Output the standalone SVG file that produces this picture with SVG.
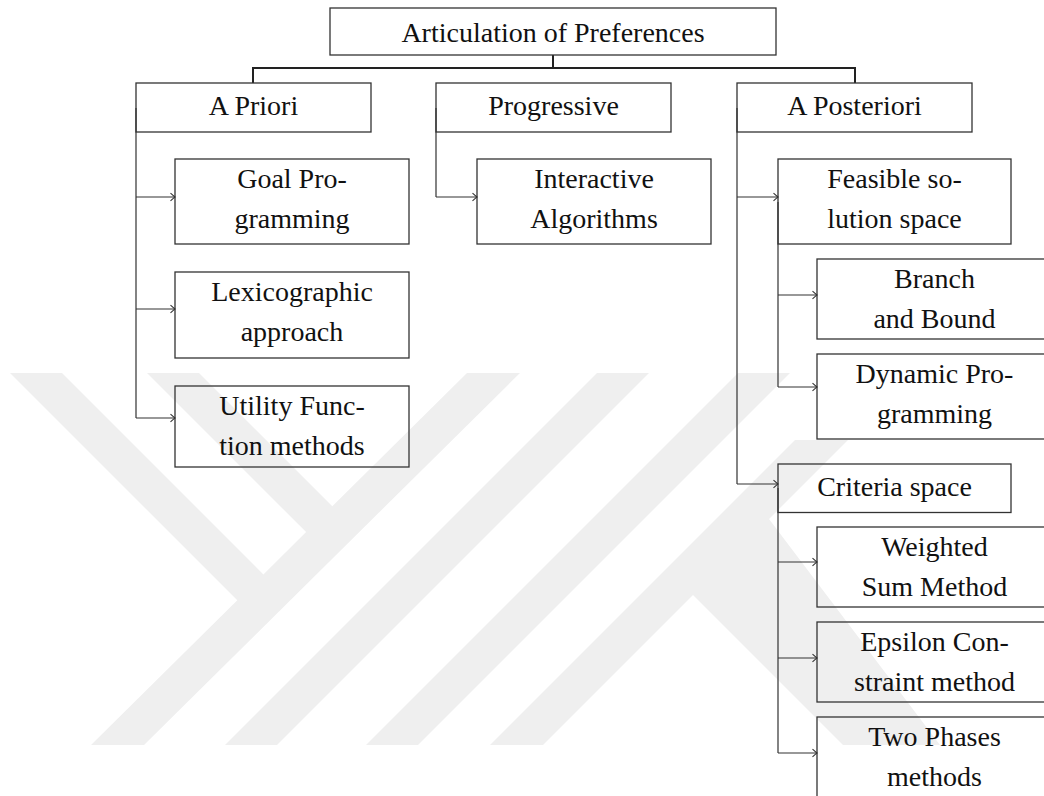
<svg xmlns="http://www.w3.org/2000/svg" width="1044" height="796" viewBox="0 0 1044 796">
<style>
.wm{fill:#efefef;stroke:none}
.box{fill:none;stroke:#333;stroke-width:1.3}
.t{font-family:"Liberation Serif","Times New Roman",serif;font-size:28px;fill:#111;text-anchor:middle}
.thick{fill:none;stroke:#222;stroke-width:2}
.thin{fill:none;stroke:#333;stroke-width:1.2}
.arr{fill:none;stroke:#333;stroke-width:1.2;marker-end:url(#tip)}
</style>
<defs>
<marker id="tip" markerUnits="userSpaceOnUse" viewBox="-6 -5 7 10" refX="0" refY="0" markerWidth="7" markerHeight="10" orient="auto" overflow="visible">
<path d="M-4.5,-3.8 Q-1.2,-0.8 0,0 Q-1.2,0.8 -4.5,3.8" fill="none" stroke="#333" stroke-width="1.1"/>
</marker>
</defs>
<rect width="1044" height="796" fill="#fff"/>
<g id="watermark">
<polygon class="wm" points="10,373 62,373 263.4,574.4 306.1,532.1 147,373 199,373 332.3,506.3 467,373 520,373 144,745 91,745 237.3,600.3"/>
<polygon class="wm" points="597,373 649,373 277,745 225,745"/>
<polygon class="wm" points="738,373 790,373 418,745 366,745"/>
<polygon class="wm" points="795,440 848,440 769,519 940,745 843,745 693,595 543,745 490,745"/>
</g>
<g id="connectors">
<path class="thick" d="M553,55 V68 M253,83 V68 H855 V83"/>
<path class="thin" d="M136,108 V418 M436,108 V197 M737,108 V484 M778,202 V387 M778,488 V753"/>
<path class="arr" d="M136,197 H175"/>
<path class="arr" d="M136,309 H175"/>
<path class="arr" d="M136,418 H175"/>
<path class="arr" d="M436,197 H477"/>
<path class="arr" d="M737,197 H778"/>
<path class="arr" d="M737,484 H778"/>
<path class="arr" d="M778,295 H817"/>
<path class="arr" d="M778,387 H817"/>
<path class="arr" d="M778,562 H817"/>
<path class="arr" d="M778,658 H817"/>
<path class="arr" d="M778,753 H817"/>
</g>
<g id="root"><rect class="box" x="330" y="8" width="446" height="47"/><text class="t" x="553" y="41.5">Articulation of Preferences</text></g>
<g id="apriori"><rect class="box" x="136" y="83" width="235" height="49"/><text class="t" x="253.5" y="114.5">A Priori</text></g>
<g id="progressive"><rect class="box" x="436" y="83" width="235" height="49"/><text class="t" x="553.5" y="114.5">Progressive</text></g>
<g id="aposteriori"><rect class="box" x="737" y="83" width="235" height="49"/><text class="t" x="854.5" y="114.5">A Posteriori</text></g>
<g id="goal"><rect class="box" x="175" y="159" width="234" height="85"/><text class="t" x="292" y="188">Goal Pro-</text><text class="t" x="292" y="228">gramming</text></g>
<g id="lexico"><rect class="box" x="175" y="272" width="234" height="86"/><text class="t" x="292" y="301">Lexicographic</text><text class="t" x="292" y="341">approach</text></g>
<g id="utility"><rect class="box" x="175" y="386" width="234" height="81"/><text class="t" x="292" y="415">Utility Func-</text><text class="t" x="292" y="455">tion methods</text></g>
<g id="interactive"><rect class="box" x="477" y="159" width="234" height="85"/><text class="t" x="594" y="188">Interactive</text><text class="t" x="594" y="228">Algorithms</text></g>
<g id="feasible"><rect class="box" x="778" y="159" width="233" height="85"/><text class="t" x="894.5" y="188">Feasible so-</text><text class="t" x="894.5" y="228">lution space</text></g>
<g id="branch"><rect class="box" x="817" y="259" width="235" height="80"/><text class="t" x="934.5" y="288">Branch</text><text class="t" x="934.5" y="328">and Bound</text></g>
<g id="dynamic"><rect class="box" x="817" y="354" width="235" height="85"/><text class="t" x="934.5" y="383">Dynamic Pro-</text><text class="t" x="934.5" y="423">gramming</text></g>
<g id="criteria"><rect class="box" x="778" y="464" width="233" height="48.5"/><text class="t" x="894.5" y="496">Criteria space</text></g>
<g id="weighted"><rect class="box" x="817" y="527" width="235" height="80"/><text class="t" x="934.5" y="556">Weighted</text><text class="t" x="934.5" y="596">Sum Method</text></g>
<g id="epsilon"><rect class="box" x="817" y="622" width="235" height="80"/><text class="t" x="934.5" y="651">Epsilon Con-</text><text class="t" x="934.5" y="691">straint method</text></g>
<g id="twophases"><rect class="box" x="817" y="717" width="235" height="90"/><text class="t" x="934.5" y="746">Two Phases</text><text class="t" x="934.5" y="786">methods</text></g>
</svg>
